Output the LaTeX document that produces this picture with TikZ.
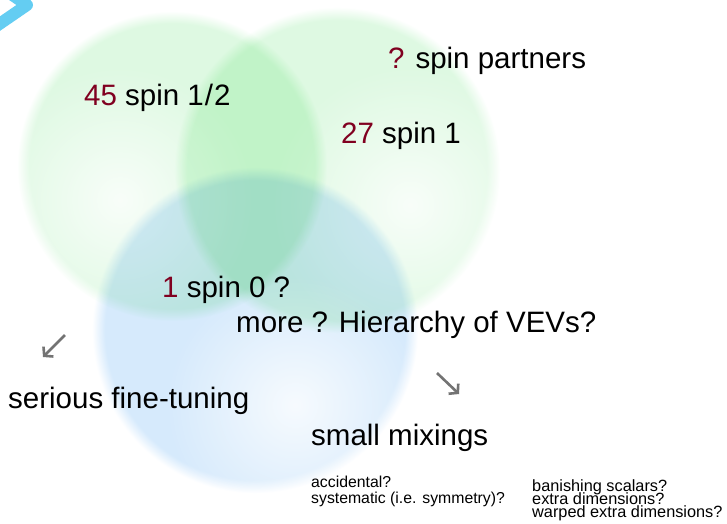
\documentclass[tikz,border=0pt]{standalone}
\usepackage{fontspec}
\setmainfont{Liberation Sans}
\usetikzlibrary{arrows.meta,fadings}
\definecolor{gC}{RGB}{222,249,226}
\definecolor{bC}{RGB}{214,234,252}
\definecolor{numred}{RGB}{128,0,32}
\definecolor{chev}{RGB}{100,205,242}
\pgfdeclareradialshading{gdisc}{\pgfpointorigin}{color(0bp)=(gC); color(23bp)=(gC); color(25bp)=(white); color(50bp)=(white)}
\pgfdeclareradialshading{bdisc}{\pgfpointorigin}{color(0bp)=(bC); color(23bp)=(bC); color(25bp)=(white); color(50bp)=(white)}
\tikzfading[name=glow, inner color=transparent!0, outer color=transparent!100]
\newcommand{\nm}[1]{\textcolor{numred}{#1}}
\begin{document}
\begin{tikzpicture}[x=1pt,y=-1pt,
  big/.style={anchor=base west, inner sep=0pt, font=\fontsize{29.5}{34}\selectfont},
  smallA/.style={anchor=base west, inner sep=0pt, font=\fontsize{15.8}{18}\selectfont},
  smallB/.style={anchor=base west, inner sep=0pt, text height=9.5pt, text depth=3pt, font=\fontsize{16.3}{18}\selectfont},
  garrow/.style={line width=2.6pt, draw=black!55, -{Straight Barb[length=6pt,width=14pt]}},
  glowfill/.style={white, path fading=glow, fill opacity=0.8}]
\useasboundingbox (0,0) rectangle (727,523);
\fill[white] (0,0) rectangle (727,523);
% circles
\coordinate (cL) at (172,166);
\coordinate (cR) at (337,170);
\coordinate (cB) at (255,330);
\begin{scope}[blend group=multiply]
  \begin{scope}[transparency group]
    \shade[shading=gdisc] (cL) circle (155pt);
    \begin{scope}
      \clip (cL) circle (155pt);
      \fill[glowfill] (120,200) circle (135pt);
    \end{scope}
  \end{scope}
  \begin{scope}[transparency group]
    \shade[shading=gdisc] (cR) circle (163pt);
    \begin{scope}
      \clip (cR) circle (163pt);
      \fill[glowfill] (410,205) circle (140pt);
    \end{scope}
  \end{scope}
  \begin{scope}[transparency group]
    \shade[shading=bdisc] (cB) circle (163pt);
    \begin{scope}
      \clip (cB) circle (163pt);
      \fill[glowfill] (295,405) circle (130pt);
    \end{scope}
  \end{scope}
\end{scope}
% chevron
\coordinate (ch1) at (-5,-17);
\coordinate (ch2) at (27,5);
\coordinate (ch3) at (-5,27);
\draw[chev, line width=12pt, line cap=round, line join=round] (ch1) -- (ch2) -- (ch3);
% texts
\node[big] (n45) at (84,105) {\nm{45} spin 1\kern1pt/\kern1pt2};
\node[big] (npt) at (388,68) {\nm{?} spin partners};
\node[big] (n27) at (341,143) {\nm{27} spin 1};
\node[big] (n1) at (162,297) {\nm{1} spin 0 ?};
\node[big] (more) at (236,332) {more ? Hierarchy of VEVs?};
\node[big] (sft) at (8,408) {serious fine-tuning};
\node[big] (smx) at (311,445) {small mixings};
\node[smallA] (acc) at (311,487) {accidental?};
\node[smallA] (sys) at (311,503) {systematic (i.e. symmetry)?};
\node[smallB] (ban) at (532,491) {banishing scalars?};
\node[smallB] (ext) at (532,504.5) {extra dimensions?};
\node[smallB] (war) at (532,517.5) {warped extra dimensions?};
% arrows
\coordinate (a1s) at (65,335);
\coordinate (a1e) at (43,357);
\coordinate (a2s) at (437,373);
\coordinate (a2e) at (459,394);
\draw[garrow] (a1s) -- (a1e);
\draw[garrow] (a2s) -- (a2e);
\end{tikzpicture}
\end{document}
